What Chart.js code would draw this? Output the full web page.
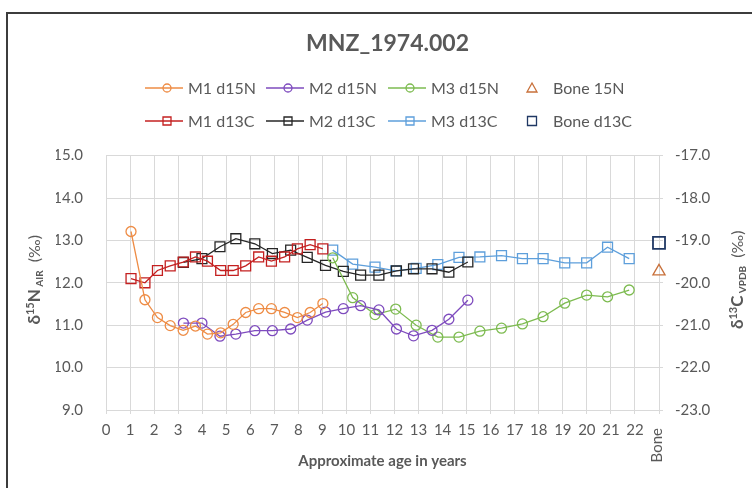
<!DOCTYPE html>
<html>
<head>
<meta charset="utf-8">
<script src="https://cdn.jsdelivr.net/npm/chart.js"></script>
<style>
  html, body { margin: 0; padding: 0; background: #fff; overflow: hidden; }
  #frame { position: absolute; left: 6px; top: 12px; width: 800px; height: 600px; border: 2px solid #3c3c3c; }
  #isoChart { position: absolute; left: 0; top: 0; }
</style>
</head>
<body>
<div id="frame"></div>
<canvas id="isoChart" width="752" height="488"></canvas>
<script>
// ages (years) of the tooth increments
const m1Age = [1.04, 1.62, 2.14, 2.67, 3.21, 3.72, 4.22, 4.77, 5.29, 5.81, 6.35, 6.88, 7.43, 7.96, 8.49, 9.02];
const m2Age = [3.22, 3.99, 4.74, 5.4, 6.19, 6.92, 7.68, 8.37, 9.13, 9.87, 10.59, 11.35, 12.08, 12.79, 13.56, 14.26, 15.05];
const m3Age = [9.43, 10.26, 11.19, 12.05, 12.9, 13.8, 14.68, 15.55, 16.45, 17.32, 18.18, 19.08, 19.99, 20.86, 21.76];
const boneAge = [23];

// delta 15N (left axis)
const m1N = [13.21, 11.6, 11.18, 10.99, 10.88, 10.98, 10.79, 10.82, 11.02, 11.3, 11.39, 11.39, 11.3, 11.18, 11.3, 11.51];
const m2N = [11.05, 11.05, 10.74, 10.79, 10.87, 10.87, 10.91, 11.12, 11.31, 11.39, 11.46, 11.36, 10.91, 10.75, 10.88, 11.14, 11.59];
const m3N = [12.59, 11.65, 11.25, 11.38, 11.0, 10.72, 10.72, 10.86, 10.93, 11.03, 11.2, 11.52, 11.71, 11.67, 11.83];
const boneN = [12.27];

// delta 13C (right axis)
const m1C = [-19.9, -20.0, -19.71, -19.6, -19.51, -19.39, -19.49, -19.71, -19.71, -19.6, -19.39, -19.49, -19.39, -19.2, -19.1, -19.2];
const m2C = [-19.52, -19.43, -19.15, -18.96, -19.08, -19.31, -19.23, -19.4, -19.59, -19.73, -19.82, -19.82, -19.72, -19.67, -19.67, -19.75, -19.51];
const m3C = [-19.23, -19.56, -19.63, -19.72, -19.66, -19.57, -19.4, -19.39, -19.36, -19.43, -19.43, -19.53, -19.53, -19.16, -19.43];
const boneC = [-19.06];

const xTicks = [0, 23];
const leftTicks = [9, 15];
const rightTicks = [-23, -17];

const pts = (xs, ys) => xs.map((x, i) => ({ x: x, y: ys[i] }));

const grey = "#595959";
const gridGrey = "#d9d9d9";
Chart.defaults.font.family = "Lato";
Chart.defaults.font.size = 15;
Chart.defaults.color = grey;

function series(label, xs, ys, color, style, axis, line) {
  return {
    label: label,
    data: pts(xs, ys),
    yAxisID: axis,
    showLine: line,
    clip: false,
    borderColor: color,
    borderWidth: 1.3,
    pointStyle: style,
    pointRadius: style === "circle" ? 5 : 7,
    pointBorderWidth: 1.3,
    pointBorderColor: color,
    pointBackgroundColor: "rgba(0,0,0,0)",
  };
}

const datasets = [
  series("M1 d15N", m1Age, m1N, "#ee8c45", "circle", "y", true),
  series("M2 d15N", m2Age, m2N, "#7e4bbe", "circle", "y", true),
  series("M3 d15N", m3Age, m3N, "#7dbb50", "circle", "y", true),
  series("Bone 15N", boneAge, boneN, "#c8703a", "triangle", "y", false),
  series("M1 d13C", m1Age, m1C, "#c42020", "rect", "y1", true),
  series("M2 d13C", m2Age, m2C, "#262626", "rect", "y1", true),
  series("M3 d13C", m3Age, m3C, "#5e9fdb", "rect", "y1", true),
  series("Bone d13C", boneAge, boneC, "#203864", "rect", "y1", false),
];
datasets[3].pointRadius = 7;
datasets[7].pointRadius = 8.5;
datasets[7].pointBorderWidth = 1.8;

function marker(ctx, style, x, y, big) {
  ctx.beginPath();
  if (style === "circle") {
    ctx.arc(x, y, 4, 0, Math.PI * 2);
  } else if (style === "rect") {
    const s = big ? 4.5 : 4;
    ctx.rect(x - s, y - s, 2 * s, 2 * s);
  } else {
    ctx.moveTo(x, y - 5);
    ctx.lineTo(x + 5, y + 4);
    ctx.lineTo(x - 5, y + 4);
    ctx.closePath();
  }
  ctx.stroke();
}

function drawRich(ctx, parts, cx, cy) {
  let total = 0;
  parts.forEach((p) => {
    ctx.font = (p[2] ? "bold " : "") + p[1] + "px Lato";
    p.w = ctx.measureText(p[0]).width;
    total += p.w;
  });
  ctx.save();
  ctx.translate(cx, cy);
  ctx.rotate(-Math.PI / 2);
  ctx.textAlign = "left";
  ctx.textBaseline = "alphabetic";
  let x = -total / 2;
  parts.forEach((p) => {
    ctx.font = (p[2] ? "bold " : "") + p[1] + "px Lato";
    ctx.fillText(p[0], x, 6 + p[3]);
    x += p.w;
  });
  ctx.restore();
}

const extras = {
  id: "extras",
  afterDraw(chart) {
    const ctx = chart.ctx;
    ctx.save();
    // legend, 4 columns x 2 rows like the spreadsheet
    const cols = [188, 309, 431, 553];
    const rows = [88, 121];
    chart.data.datasets.forEach((ds, i) => {
      const tx = cols[i % 4];
      const y = rows[Math.floor(i / 4)];
      ctx.strokeStyle = ds.borderColor;
      ctx.lineWidth = 1.3;
      if (ds.showLine) {
        ctx.beginPath();
        ctx.moveTo(tx - 43, y);
        ctx.lineTo(tx - 5, y);
        ctx.stroke();
      }
      marker(ctx, ds.pointStyle, tx - 21, y, !ds.showLine);
      ctx.fillStyle = grey;
      ctx.font = "16px Lato";
      ctx.textAlign = "left";
      ctx.textBaseline = "middle";
      ctx.fillText(ds.label, tx, y + 1);
    });

    // rotated "Bone" category label
    const xs = chart.scales.x;
    ctx.fillStyle = grey;
    ctx.font = "15px Lato";
    ctx.save();
    ctx.translate(xs.getPixelForValue(23) - 2, 428);
    ctx.rotate(-Math.PI / 2);
    ctx.textAlign = "right";
    ctx.textBaseline = "middle";
    ctx.fillText("Bone", 0, 0);
    ctx.restore();

    // axis titles with super/subscripts
    const cy = (chart.chartArea.top + chart.chartArea.bottom) / 2 - 3;
    drawRich(ctx, [["δ", 17, true, 0], ["15", 11, true, -6], ["N", 17, true, 0], [" AIR", 10, true, 3], ["  (‰)", 16, false, 0]], 34, cy);
    drawRich(ctx, [["δ", 17, true, 0], ["13", 11, true, -6], ["C", 17, true, 0], [" VPDB", 10, true, 3], ["  (‰)", 16, false, 0]], 737, cy);
    ctx.restore();
  },
};

new Chart(document.getElementById("isoChart"), {
  type: "scatter",
  data: { datasets: datasets },
  plugins: [extras],
  options: {
    responsive: false,
    animation: false,
    layout: { padding: { left: 56, right: 33, top: 0, bottom: 0 } },
    plugins: {
      legend: { display: false },
      tooltip: { enabled: false },
      title: {
        display: true,
        text: "MNZ_1974.002",
        color: grey,
        font: { size: 23, weight: "bold" },
        padding: { top: 30, bottom: 98 },
      },
    },
    scales: {
      x: {
        type: "linear",
        min: xTicks[0],
        max: xTicks[1],
        afterFit: (s) => { s.height = 78; },
        grid: { color: gridGrey, tickLength: 4 },
        border: { color: gridGrey },
        ticks: {
          stepSize: 1,
          autoSkip: false,
          maxRotation: 0,
          padding: 7,
          callback: (v) => (v === 23 ? "" : v),
        },
        title: {
          display: true,
          text: "Approximate age in years",
          color: grey,
          font: { size: 15, weight: "bold" },
          padding: { top: 0, bottom: 18 },
        },
      },
      y: {
        position: "left",
        min: leftTicks[0],
        max: leftTicks[1],
        afterFit: (s) => { s.width = 50; },
        grid: { color: gridGrey, drawTicks: false },
        border: { color: gridGrey },
        ticks: { stepSize: 1, padding: 23, callback: (v) => v.toFixed(1) },
      },
      y1: {
        position: "right",
        min: rightTicks[0],
        max: rightTicks[1],
        afterFit: (s) => { s.width = 60; },
        grid: { color: gridGrey, drawOnChartArea: false, tickLength: 4 },
        border: { color: gridGrey },
        ticks: { stepSize: 1, padding: 12, callback: (v) => v.toFixed(1) },
      },
    },
  },
});
</script>
</body>
</html>
